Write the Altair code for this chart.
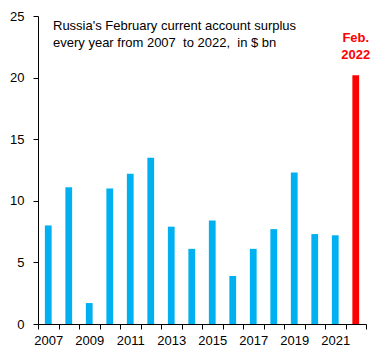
import altair as alt
import pandas as pd

years = [str(y) for y in range(2007, 2023)]
values = [8.0, 11.1, 1.7, 11.0, 12.2, 13.5, 7.9, 6.1, 8.4, 3.9, 6.1, 7.7, 12.3, 7.3, 7.2, 20.2]
highlight = ["no"] * 15 + ["yes"]
note_lines = ["Russia's February current account surplus", "every year from 2007\u00a0 to 2022,\u00a0 in $ bn"]
feb_label = "Feb.\n2022"

df = pd.DataFrame({"year": years, "value": values, "hl": highlight})

FONT = "Liberation Sans"

x = alt.X("year:N", title=None,
          scale=alt.Scale(paddingInner=0, paddingOuter=0),
          axis=alt.Axis(tickBand="extent", labelAngle=0, labelFont=FONT, labelFontSize=13,
                        labelColor="black", domainColor="black", tickColor="black",
                        tickSize=5, labelPadding=5,
                        labelExpr="toNumber(datum.value) % 2 == 1 ? datum.label : ''"))
y = alt.Y("value:Q", title=None,
          scale=alt.Scale(domain=[0, 25], nice=False),
          axis=alt.Axis(values=[0, 5, 10, 15, 20, 25], grid=False, labelFont=FONT, labelFontSize=13,
                        labelColor="black", domainColor="black", tickColor="black",
                        tickSize=5, labelPadding=9))

bars = alt.Chart(df).mark_bar(width=alt.RelativeBandSize(0.33)).encode(
    x=x, y=y,
    color=alt.Color("hl:N", scale=alt.Scale(domain=["no", "yes"], range=["#00B0F0", "#FF0000"]), legend=None),
)

feb = alt.Chart(df).transform_filter(alt.datum.hl == "yes").transform_calculate(
    lab=alt.expr.if_(True, feb_label, "")
).mark_text(font=FONT, fontSize=13, fontWeight="bold", color="#FF0000", baseline="bottom",
            lineBreak="\n", lineHeight=17, dy=-30).encode(
    x=alt.X("year:N"), y=alt.Y("value:Q"), text="lab:N")

note_df = pd.DataFrame({"t": ["\n".join(note_lines)]})
note = alt.Chart(note_df).mark_text(font=FONT, fontSize=13, color="black", align="left",
                                    baseline="alphabetic", lineBreak="\n", lineHeight=17).encode(
    x=alt.value(15), y=alt.value(14), text="t:N")

chart = alt.layer(bars, feb, note).properties(
    width=328, height=308,
    autosize=alt.AutoSizeParams(type="none"),
    padding={"left": 30, "top": 8, "right": 9, "bottom": 28},
).configure_view(stroke=None)

chart.save("out.html", embed_options={"renderer": "svg", "actions": False})
